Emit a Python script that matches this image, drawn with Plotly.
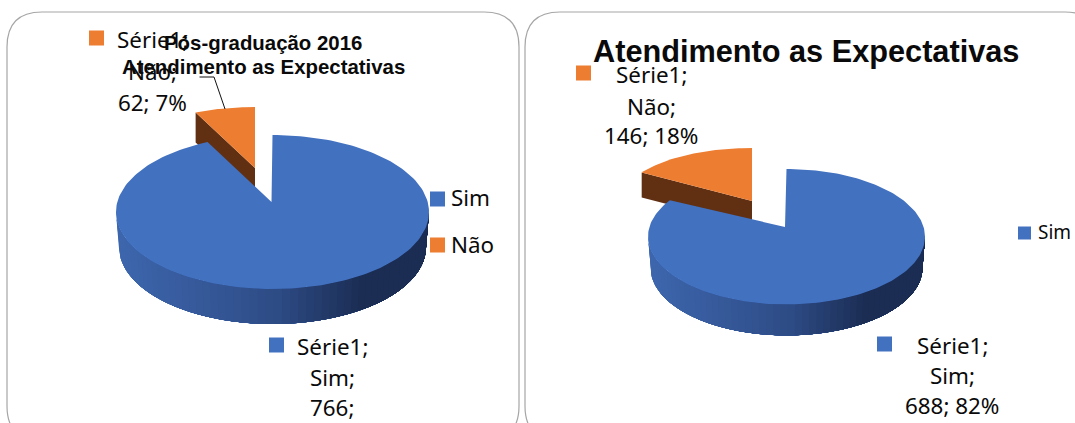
import numpy as np
import plotly.graph_objects as go

# data
categories = ["Sim", "Não"]
series_name = "Série1"
values_left = [766, 62]
values_right = [688, 146]
title_left = ["Pós-graduação 2016", "Atendimento as Expectativas"]
title_right = "Atendimento as Expectativas"

BLUE = "#4271C0"
ORANGE = "#ED7D31"
BROWN = "#613013"
BLACK = "#0A0A0A"
LABEL_FONT = "Noto Sans"
TITLE_FONT = "Liberation Sans"

# excel squeezes the angles of the far side of a 3d pie
ANGLE_SQUEEZE = 0.91

# pixel geometry of each pie
left_pie = dict(cx=272.5, cy=212, rx=156.5, ry=77, apex=(271.5, 202), depth=35, inset=3,
                ox=255, oy=168, orx=143, ory=61, odepth=30)
right_pie = dict(cx=786.5, cy=236.7, rx=138.5, ry=67.7, apex=(785, 227), depth=31, inset=2.5,
                 ox=752, oy=201, orx=131, ory=53, odepth=25)

fig = go.Figure()


def polygon(xs, ys, color):
    fig.add_trace(go.Scatter(x=xs, y=ys, mode="lines", fill="toself", fillcolor=color,
                             line=dict(color=color, width=0), hoverinfo="skip"))


def side_color(t):
    stops = [(0, (62, 103, 174)), (0.5, (46, 76, 134)), (0.78, (27, 45, 83)), (1, (27, 45, 83))]
    rgb = [np.interp(t, [s[0] for s in stops], [s[1][i] for s in stops]) for i in range(3)]
    return "rgb(%d,%d,%d)" % tuple(rgb)


def draw_pie(values, p):
    share = values[1] / sum(values)
    theta = np.radians(share * 360 * ANGLE_SQUEEZE)

    # pulled out slice: cut face first, then the top
    cx0 = p["ox"] - p["orx"] * np.sin(theta)
    cy0 = p["oy"] - p["ory"] * np.cos(theta)
    polygon([cx0, p["ox"], p["ox"], cx0, cx0],
            [cy0, p["oy"], p["oy"] + p["odepth"], cy0 + p["odepth"], cy0], BROWN)
    t = np.linspace(-theta, 0, 40)
    polygon(np.r_[p["ox"], p["ox"] + p["orx"] * np.sin(t), p["ox"]],
            np.r_[p["oy"], p["oy"] - p["ory"] * np.cos(t), p["oy"]], ORANGE)

    # front wall of the big slice: painted left to right, each coat covers the rest
    # of the wall so no seams show between the shades
    for a in np.radians(np.linspace(270, 92, 60)):
        t = np.linspace(np.pi / 2, a, 120)
        top_x = p["cx"] + p["rx"] * np.sin(t)
        top_y = p["cy"] - p["ry"] * np.cos(t)
        bot_x = p["cx"] + (p["rx"] - p["inset"]) * np.sin(t)
        bot_y = p["cy"] + p["depth"] - p["ry"] * np.cos(t)
        frac = (1 + np.sin(a)) / 2
        polygon(np.r_[top_x, bot_x[::-1], top_x[0]], np.r_[top_y, bot_y[::-1], top_y[0]], side_color(frac))

    # top of the big slice
    t = np.linspace(0, 2 * np.pi - theta, 200)
    polygon(np.r_[p["apex"][0], p["cx"] + p["rx"] * np.sin(t), p["apex"][0]],
            np.r_[p["apex"][1], p["cy"] - p["ry"] * np.cos(t), p["apex"][1]], BLUE)


draw_pie(values_left, left_pie)
draw_pie(values_right, right_pie)

# leader line of the small slice
fig.add_trace(go.Scatter(x=[199.5, 214, 225], y=[77, 77, 109], mode="lines",
                         line=dict(color="#111111", width=1), hoverinfo="skip"))

# little colour squares: legend keys and label keys
for x, y, size, color in [(437.5, 199, 15, BLUE), (437.5, 245, 15, ORANGE), (96.5, 38, 15, ORANGE),
                          (276.5, 345, 15, BLUE), (583.5, 73, 15, ORANGE), (884.5, 344, 15, BLUE),
                          (1024.5, 233, 13, BLUE)]:
    fig.add_trace(go.Scatter(x=[x], y=[y], mode="markers",
                             marker=dict(symbol="square", size=size, color=color, line=dict(width=0)),
                             hoverinfo="skip"))


def pct(values, i):
    return round(100 * values[i] / sum(values))


def label(x, y, text, size=22.4, anchor="center", family=LABEL_FONT, bold=False):
    fig.add_annotation(x=x, y=y, text="<b>%s</b>" % text if bold else text, showarrow=False, xanchor=anchor,
                       yanchor="middle", font=dict(family=family, size=size, color=BLACK))


label(152, 39, series_name + ";")
label(152, 71, categories[1] + ";")
label(152, 102, "%d; %d%%" % (values_left[1], pct(values_left, 1)))
label(332, 346, series_name + ";")
label(332, 377, categories[0] + ";")
label(332, 407, "%d;" % values_left[0])
label(448.5, 197, categories[0], anchor="left")
label(448.5, 244, categories[1], anchor="left")

label(651, 74, series_name + ";")
label(651, 106, categories[1] + ";")
label(651, 135, "%d; %d%%" % (values_right[1], pct(values_right, 1)))
label(952, 345, series_name + ";")
label(952, 375, categories[0] + ";")
label(952, 405, "%d; %d%%" % (values_right[0], pct(values_right, 0)))
label(1035.5, 232, categories[0], size=19, anchor="left")

# titles go last, the left one sits on top of the label like in the original
label(263, 43, title_left[0], size=20.4, family=TITLE_FONT, bold=True)
label(263, 67, title_left[1], size=20.4, family=TITLE_FONT, bold=True)
label(806, 51, title_right, size=30.7, family=TITLE_FONT, bold=True)

card = dict(type="path", line=dict(color="#A6A6A6", width=1.2), fillcolor="rgba(0,0,0,0)", layer="below")
fig.update_layout(
    width=1075,
    height=423,
    margin=dict(l=0, r=0, t=0, b=0),
    paper_bgcolor="white",
    plot_bgcolor="white",
    showlegend=False,
    xaxis=dict(range=[0, 1075], visible=False, fixedrange=True),
    yaxis=dict(range=[423, 0], visible=False, fixedrange=True),
    shapes=[
        dict(card, path="M 42 441 Q 7 441 7 406 L 7 47 Q 7 12 42 12 L 484 12 Q 519 12 519 47 L 519 406 Q 519 441 484 441"),
        dict(card, path="M 560 441 Q 525 441 525 406 L 525 47 Q 525 12 560 12 L 1065 12 Q 1100 12 1100 47"),
    ],
)

fig.write_html("out.html", config=dict(displayModeBar=False),
               post_script="document.body.style.margin='0';")
